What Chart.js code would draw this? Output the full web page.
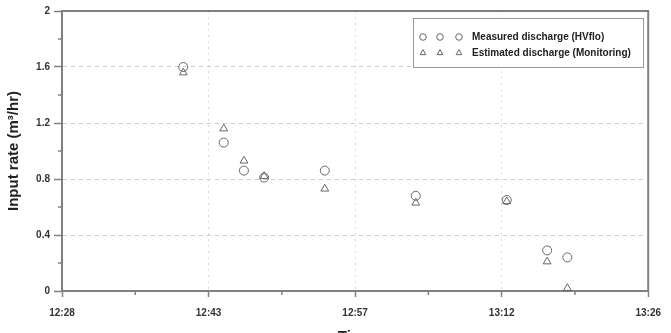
<!DOCTYPE html>
<html><head><meta charset="utf-8">
<script src="https://cdn.jsdelivr.net/npm/chart.js@4"></script>
<style>html,body{margin:0;padding:0;background:#fff;overflow:hidden}canvas{display:block}</style>
</head><body>
<canvas id="c" width="671" height="350"></canvas>
<script>
const times = ['12:40','12:44','12:46','12:48','12:54','13:03','13:12','13:16','13:18'];
const measured = [1.60,1.06,0.86,0.81,0.86,0.68,0.65,0.29,0.24];
const estimated = [1.56,1.16,0.93,0.82,0.73,0.63,0.64,0.21,0.02];
const xTickLabels = ['12:28','12:43','12:57','13:12','13:26'];
const yTicks = [0,0.4,0.8,1.2,1.6,2];
const seriesLabels = ['Measured discharge (HVflo)','Estimated discharge (Monitoring)'];

const toMin = s => { const [h,m] = s.split(':').map(Number); return h*60+m; };
const t0 = toMin(xTickLabels[0]);
const tEnd = toMin(xTickLabels[xTickLabels.length-1]);
const xTickVals = xTickLabels.map((_,i)=> i*(tEnd-t0)/(xTickLabels.length-1));
const pts = arr => arr.map((v,i)=>({x: toMin(times[i])-t0, y: v}));

const FONT = "'Liberation Sans', Arial, sans-serif";
const AX = '#808080';
const MK = '#666';

const extras = {
  id:'extras',
  afterDraw(chart){
    const ctx = chart.ctx, a = chart.chartArea, xs = chart.scales.x, ys = chart.scales.y;
    ctx.save();
    ctx.strokeStyle = AX; ctx.lineWidth = 2;
    ctx.beginPath(); ctx.moveTo(a.left, a.top); ctx.lineTo(a.right, a.top); ctx.lineTo(a.right, a.bottom); ctx.stroke();
    ctx.lineWidth = 1.5;
    for (let i=0;i<xTickVals.length-1;i++){
      const px = xs.getPixelForValue((xTickVals[i]+xTickVals[i+1])/2);
      ctx.beginPath(); ctx.moveTo(px, a.bottom); ctx.lineTo(px, a.bottom+4); ctx.stroke();
    }
    for (let i=0;i<yTicks.length-1;i++){
      const py = ys.getPixelForValue((yTicks[i]+yTicks[i+1])/2);
      ctx.beginPath(); ctx.moveTo(a.left, py); ctx.lineTo(a.left-4, py); ctx.stroke();
    }
    const bx=413, by=18, bw=230, bh=49;
    ctx.fillStyle='#fff'; ctx.fillRect(bx,by,bw,bh);
    ctx.strokeStyle='#999'; ctx.lineWidth=1; ctx.strokeRect(bx+0.5,by+0.5,bw,bh);
    const rows=[37,53], mx=[423,440,459];
    chart.data.datasets.forEach((ds,di)=>{
      const y = rows[di];
      mx.forEach(x=>{
        ctx.strokeStyle = MK; ctx.lineWidth = 1; ctx.fillStyle = 'rgba(0,0,0,0)';
        Chart.helpers.drawPoint(ctx,{pointStyle: ds.pointStyle, radius:3.3, borderWidth:1, rotation:0}, x, y);
      });
      ctx.fillStyle='#222'; ctx.font = "bold 10px "+FONT; ctx.textBaseline='middle'; ctx.textAlign='left';
      ctx.fillText(ds.label, 472, y);
    });
    ctx.restore();
  }
};

new Chart(document.getElementById('c'), {
  type:'scatter',
  data:{datasets:[
    {label:seriesLabels[0], data:pts(measured), pointStyle:'circle', pointRadius:4.5, borderColor:MK, backgroundColor:'rgba(0,0,0,0)', borderWidth:1},
    {label:seriesLabels[1], data:pts(estimated), pointStyle:'triangle', pointRadius:4.5, borderColor:MK, backgroundColor:'rgba(0,0,0,0)', borderWidth:1}
  ]},
  options:{
    responsive:false, animation:false, devicePixelRatio:1,
    layout:{padding:{top:11,right:12,left:1,bottom:0}},
    plugins:{legend:{display:false}, tooltip:{enabled:false}},
    scales:{
      x:{
        type:'linear', min:xTickVals[0], max:xTickVals[xTickVals.length-1],
        afterBuildTicks(s){ s.ticks = xTickVals.map(v=>({value:v})); },
        afterFit(s){ s.height = 59; },
        ticks:{callback:(v,i)=>xTickLabels[i], font:{family:FONT, size:10, weight:'bold'}, color:'#333', padding:10, maxRotation:0, autoSkip:false},
        grid:{color:c=> (c.index===0||c.index===xTickVals.length-1)?'rgba(0,0,0,0)':'#d8d8d8', lineWidth:1, tickLength:6, tickColor:AX, tickWidth:1.5},
        border:{color:AX, width:2, dash:[2,4]},
        title:{display:true, text:'Time', font:{family:FONT, size:15, weight:'bold'}, color:'#222', padding:{top:12}}
      },
      y:{
        min:0, max:2,
        afterBuildTicks(s){ s.ticks = yTicks.map(v=>({value:v})); },
        afterFit(s){ s.width = 61; },
        ticks:{callback:v=>String(+(+v).toFixed(1)), font:{family:FONT, size:10, weight:'bold'}, color:'#333', padding:4},
        grid:{color:c=> (c.index===0||c.index===yTicks.length-1)?'rgba(0,0,0,0)':'#cccccc', lineWidth:1, tickLength:8, tickColor:AX, tickWidth:1.5},
        border:{color:AX, width:2, dash:[4,4]},
        title:{display:true, text:'Input rate (m³/hr)', font:{family:FONT, size:15, weight:'bold'}, color:'#222', padding:{top:4,bottom:6}}
      }
    }
  },
  plugins:[extras]
});
</script>
</body></html>
